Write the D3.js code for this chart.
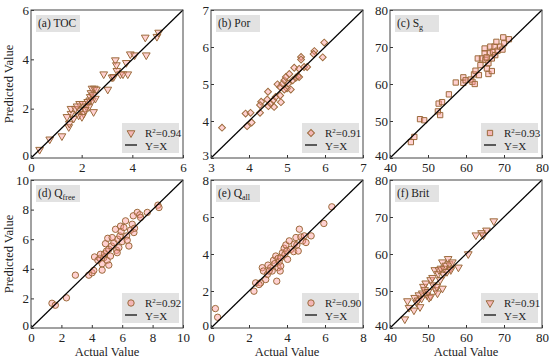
<!DOCTYPE html>
<html>
<head>
<meta charset="utf-8">
<script src="https://cdn.jsdelivr.net/npm/d3@7"></script>
<style>
body { margin: 0; background: #fff; }
svg text { font-family: "Liberation Serif", "Times New Roman", Times, serif; fill: #222; }
</style>
</head>
<body>
<svg id="chart" width="550" height="362"></svg>
<script>
// panel titles, ranges and r2
const panelNames = ['TOC', 'Por', 'S', 'Q', 'Q', 'Brit'];
const panelSubs = ['', '', 'g', 'free', 'all', ''];
const panelLetters = ['a', 'b', 'c', 'd', 'e', 'f'];
const panelDomains = [[0, 6], [3, 7], [40, 80], [0, 10], [0, 8], [40, 80]];
const panelTicks = [[0, 2, 4, 6], [3, 4, 5, 6, 7], [40, 50, 60, 70, 80], [0, 2, 4, 6, 8, 10], [0, 2, 4, 6, 8], [40, 50, 60, 70, 80]];
const panelR2 = ['0.94', '0.91', '0.93', '0.92', '0.90', '0.91'];
const panelMarkers = ['tri', 'diamond', 'square', 'circle', 'circle', 'tri'];

// actual / predicted pairs
const tocData = [[0.34,0.34],[0.74,0.76],[1.22,0.89],[1.49,1.26],[1.51,1.40],[1.58,1.80],[1.58,2.0],[1.75,2.0],[1.68,1.6],[1.88,1.73],[1.95,1.94],[1.92,2.2],[2.05,2.2],[2.08,1.80],[2.01,1.67],[2.18,2.1],[2.24,2.28],[2.32,2.34],[2.34,2.48],[2.37,2.64],[2.41,2.82],[2.50,2.82],[2.58,2.78],[2.47,1.87],[2.42,2.34],[2.54,2.41],[2.45,2.55],[2.28,2.07],[2.14,1.96],[3.03,2.78],[2.87,3.40],[3.2,3.27],[3.26,3.29],[3.33,3.97],[3.37,3.77],[3.39,3.54],[3.53,3.4],[3.63,3.4],[3.82,3.4],[3.76,3.86],[3.92,4.21],[4.09,4.17],[4.55,4.17],[4.51,4.89],[4.97,4.92],[5.04,5.09],[1.82,2.1],[1.42,1.67]];
const porData = [[3.29,3.82],[3.91,4.20],[4.04,4.22],[3.95,3.86],[4.07,3.96],[4.29,4.22],[4.32,4.52],[4.29,4.43],[4.48,4.58],[4.50,4.79],[4.51,4.40],[4.57,4.47],[4.64,4.56],[4.70,4.65],[4.75,4.99],[4.82,4.92],[4.82,4.69],[4.88,5.01],[4.93,5.10],[4.97,5.19],[5.0,4.88],[5.03,5.01],[5.06,5.27],[5.10,4.85],[5.15,5.10],[5.19,5.44],[5.23,5.17],[5.28,5.21],[5.32,5.41],[5.37,5.73],[5.37,5.66],[5.45,5.46],[5.53,5.46],[5.32,5.19],[5.72,5.89],[5.70,5.81],[5.94,5.72],[5.98,6.12],[4.93,4.85],[4.84,4.51],[4.66,4.38]];
const sgData = [[45.5,44.3],[46.4,45.7],[47.9,50.5],[49.0,50.2],[52.6,52.6],[53.2,51.6],[52.8,54.7],[53.7,55.1],[55.5,57.2],[57.3,60.4],[59.3,61.8],[59.3,60.3],[59.9,61.0],[61.2,61.2],[61.7,60.6],[62.3,60.0],[62.1,62.6],[62.5,63.6],[63.4,62.4],[63.1,66.9],[63.8,65.1],[64.2,66.9],[65.1,66.5],[64.9,69.6],[65.5,64.2],[65.9,62.7],[65.9,65.6],[66.2,68.3],[66.4,70.1],[66.8,66.9],[66.8,63.5],[67.1,68.7],[67.5,70.1],[67.7,67.8],[68.0,71.4],[68.3,69.0],[69.0,70.1],[69.6,69.3],[69.8,72.6],[70.0,71.0],[71.3,72.1],[64.9,68.3],[65.4,67.2]];
const qfreeData = [[1.38,1.67],[1.60,1.54],[2.33,2.04],[2.92,3.57],[3.80,3.57],[4.02,3.73],[4.13,3.89],[4.18,4.80],[4.40,4.57],[4.53,4.71],[4.57,4.98],[4.68,4.34],[4.68,3.91],[4.79,4.75],[4.84,5.02],[4.90,5.70],[4.97,5.20],[5.01,4.57],[5.05,6.06],[5.12,4.25],[5.12,5.32],[5.23,4.86],[5.30,5.54],[5.45,5.77],[5.56,6.67],[5.63,5.25],[5.71,6.0],[5.78,5.43],[5.85,6.22],[5.89,6.88],[5.93,6.52],[6.0,5.84],[6.11,6.79],[6.22,7.24],[6.29,6.22],[6.33,5.93],[6.44,5.54],[6.55,6.61],[6.66,7.01],[6.73,7.58],[6.77,6.45],[6.81,6.74],[6.99,7.81],[7.16,7.65],[7.21,7.47],[7.65,7.81],[8.35,8.30],[8.42,8.14],[5.34,6.11],[5.67,5.09]];
const qallData = [[0.23,1.05],[0.35,0.58],[2.26,1.99],[2.35,2.44],[2.61,2.44],[2.53,2.35],[2.70,3.26],[2.76,3.08],[2.88,2.62],[2.97,2.90],[3.0,3.40],[3.14,3.26],[3.22,3.08],[3.29,3.66],[3.36,3.48],[3.41,3.89],[3.46,2.53],[3.53,3.76],[3.53,3.26],[3.59,3.58],[3.64,3.08],[3.67,3.80],[3.76,4.07],[3.85,4.31],[3.89,3.98],[3.94,4.49],[3.99,4.16],[4.03,3.71],[4.12,4.71],[4.20,4.25],[4.35,4.13],[4.38,4.53],[4.47,4.89],[4.52,4.49],[4.59,4.16],[4.65,5.34],[4.73,4.92],[4.82,4.71],[4.91,4.98],[5.0,4.62],[5.27,4.98],[5.94,5.65],[6.36,6.55],[3.06,3.08],[3.67,3.35]];
const britData = [[43.9,42.4],[44.6,47.3],[45.0,45.5],[46.3,44.8],[46.5,48.2],[47.0,46.9],[47.4,47.5],[47.6,48.9],[47.9,45.7],[48.3,48.0],[48.5,49.4],[48.8,51.2],[49.1,50.3],[49.4,52.1],[49.7,48.9],[50.3,48.2],[50.7,48.5],[50.7,53.0],[51.2,53.6],[51.4,51.6],[51.8,55.7],[52.0,50.3],[52.3,51.2],[52.5,49.4],[52.7,54.7],[52.9,55.7],[53.2,53.0],[53.4,56.1],[53.8,57.8],[53.8,50.7],[54.1,54.5],[54.2,56.1],[54.7,56.9],[55.0,55.2],[55.3,58.7],[55.6,57.3],[55.9,56.1],[56.0,55.7],[56.4,57.8],[58.0,56.4],[60.6,60.0],[62.6,65.1],[64.1,65.7],[64.6,65.1],[65.4,66.4],[67.3,68.9],[50.0,49.8]];
const allData = [tocData, porData, sgData, qfreeData, qallData, britData];

const svg = d3.select('#chart');
const colX = [31, 211, 390];
const rowY = [10, 180];
const pw = 152, ph = 148;
const edge = '#9c6b3c';
const fillC = '#ff9a9a';
const serif = '"Liberation Serif", "Times New Roman", Times, serif';

const symbolFor = {
    tri: d3.symbol().type(d3.symbolTriangle).size(26),
    diamond: d3.symbol().type(d3.symbolSquare).size(24),
    square: d3.symbol().type(d3.symbolSquare).size(28),
    circle: d3.symbol().type(d3.symbolCircle).size(32)
};
const rotFor = { tri: 180, diamond: 45, square: 0, circle: 0 };

allData.forEach((data, i) => {
    const ox = colX[i % 3], oy = rowY[Math.floor(i / 3)];
    const dom = panelDomains[i];
    const x = d3.scaleLinear().domain(dom).range([0, pw]);
    const y = d3.scaleLinear().domain(dom).range([ph, 0]);
    const g = svg.append('g').attr('transform', 'translate(' + ox + ',' + oy + ')');

    // points
    const mk = panelMarkers[i];
    g.append('g').selectAll('path')
        .data(data)
        .enter()
        .append('path')
        .attr('d', symbolFor[mk]())
        .attr('transform', d => 'translate(' + x(d[0]) + ',' + y(d[1]) + ') rotate(' + rotFor[mk] + ')')
        .style('fill', fillC)
        .style('fill-opacity', 0.45)
        .style('stroke', edge)
        .style('stroke-width', '1px');

    // Y=X line
    g.append('line')
        .attr('x1', x(dom[0])).attr('y1', y(dom[0]))
        .attr('x2', x(dom[1])).attr('y2', y(dom[1]))
        .style('stroke', '#000')
        .style('stroke-width', '1.2px');

    // axes
    const xa = g.append('g').attr('transform', 'translate(0,' + ph + ')')
        .call(d3.axisBottom(x).tickValues(panelTicks[i]).tickFormat(d3.format('d')).tickSizeInner(-3).tickSizeOuter(0).tickPadding(5));
    const ya = g.append('g')
        .call(d3.axisLeft(y).tickValues(panelTicks[i]).tickFormat(d3.format('d')).tickSizeInner(-3).tickSizeOuter(0).tickPadding(2));
    [xa, ya].forEach(a => {
        a.attr('font-family', null).attr('font-size', null);
        a.select('.domain').remove();
        a.selectAll('line').style('stroke', '#333');
        a.selectAll('text').style('font-size', '13px').style('font-family', serif).style('fill', '#222');
    });
    // lift the lowest y label a little so it clears the x label at the corner
    ya.selectAll('.tick text').filter(d => d === dom[0]).attr('dy', '0.1em');

    g.append('rect')
        .attr('width', pw).attr('height', ph)
        .style('fill', 'none')
        .style('stroke', '#444')
        .style('stroke-width', '1px');

    // panel label
    g.append('rect')
        .attr('x', 5).attr('y', 5).attr('width', 44).attr('height', 17)
        .style('fill', '#e2e2e2');
    const lab = g.append('text').attr('x', 7).attr('y', 17).style('font-size', '11.5px').style('font-family', serif);
    lab.append('tspan').text('(' + panelLetters[i] + ') ' + panelNames[i]);
    if (panelSubs[i]) {
        lab.append('tspan').attr('dy', 3).style('font-size', '8px').text(panelSubs[i]);
    }

    // legend
    const lg = g.append('g').attr('transform', 'translate(' + (pw - 61) + ',' + (ph - 35) + ')');
    lg.append('rect').attr('width', 57).attr('height', 30).style('fill', '#e2e2e2');
    lg.append('path')
        .attr('d', symbolFor[mk]())
        .attr('transform', 'translate(9,10) rotate(' + rotFor[mk] + ')')
        .style('fill', fillC)
        .style('fill-opacity', 0.6)
        .style('stroke', edge)
        .style('stroke-width', '1px');
    lg.append('line').attr('x1', 3).attr('x2', 15).attr('y1', 22).attr('y2', 22)
        .style('stroke', '#000').style('stroke-width', '1.2px');
    const r2 = lg.append('text').attr('x', 23).attr('y', 14).style('font-size', '11px').style('font-family', serif);
    r2.append('tspan').text('R');
    r2.append('tspan').attr('dy', -4).style('font-size', '7px').text('2');
    r2.append('tspan').attr('dy', 4).text('=' + panelR2[i]);
    lg.append('text').attr('x', 23).attr('y', 27).style('font-size', '11px').style('font-family', serif).text('Y=X');
});

// axis titles
rowY.forEach(oy => {
    svg.append('text')
        .attr('transform', 'translate(13,' + (oy + ph / 2) + ') rotate(-90)')
        .attr('text-anchor', 'middle')
        .style('font-size', '12.5px')
        .style('font-family', serif)
        .text('Predicted Value');
});
colX.forEach(ox => {
    svg.append('text')
        .attr('x', ox + pw / 2).attr('y', 356)
        .attr('text-anchor', 'middle')
        .style('font-size', '12.5px')
        .style('font-family', serif)
        .text('Actual Value');
});
</script>
</body>
</html>
